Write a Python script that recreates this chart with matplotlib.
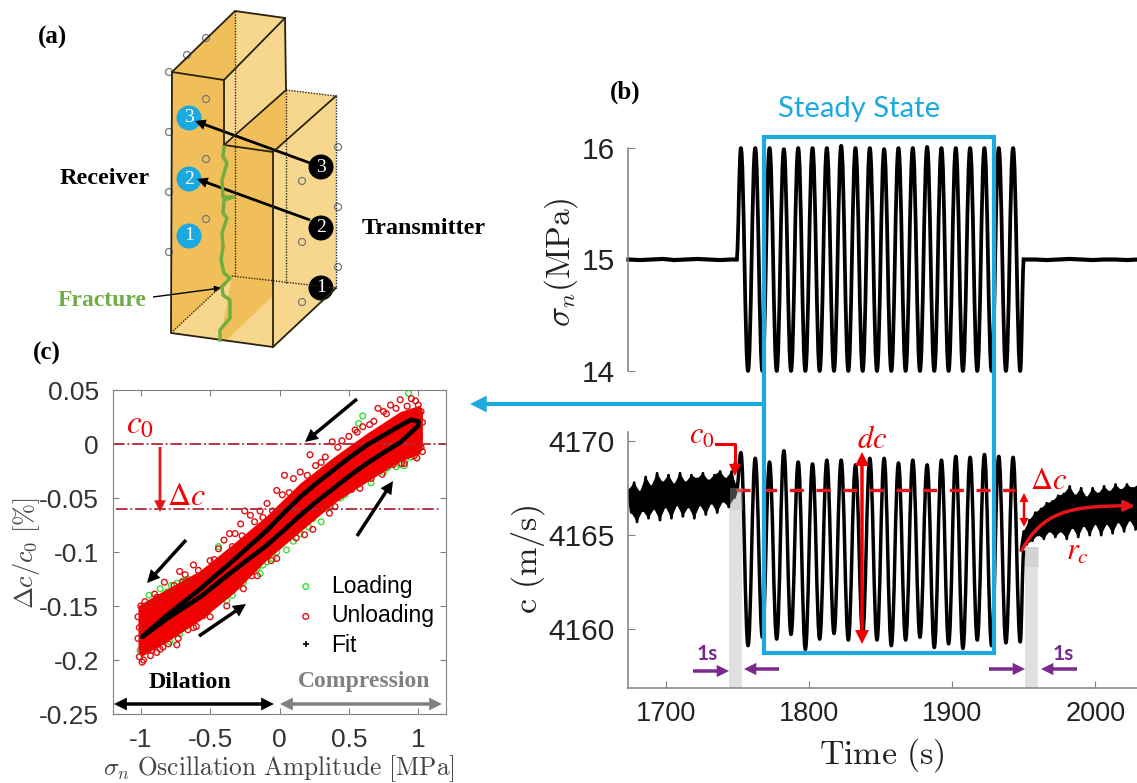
import numpy as np
import matplotlib
matplotlib.use('Agg')
import matplotlib.pyplot as plt
from matplotlib.path import Path
from matplotlib.patches import PathPatch, Polygon, Circle, Rectangle, FancyArrowPatch

plt.rcParams['font.family'] = ['Liberation Sans', 'DejaVu Sans']
plt.rcParams['mathtext.fontset'] = 'cm'

# panel b, stress: turning points of the oscillation
stress_peak_t = [1752.5, 1762.5, 1772.5, 1782.5, 1792.5, 1802.5, 1812.5, 1822.5, 1832.5, 1842.5,
                 1852.5, 1862.5, 1872.5, 1882.5, 1892.5, 1902.5, 1912.5, 1922.5, 1932.5, 1942.5]
stress_peak = [16.0, 16.0, 16.0, 15.99, 16.0, 16.0, 16.0, 16.02, 16.0, 16.0,
               15.99, 16.0, 16.0, 16.01, 16.0, 16.0, 16.0, 16.0, 16.0, 16.0]
stress_trough_t = [1757.5, 1767.5, 1777.5, 1787.5, 1797.5, 1807.5, 1817.5, 1827.5, 1837.5, 1847.5,
                   1857.5, 1867.5, 1877.5, 1887.5, 1897.5, 1907.5, 1917.5, 1927.5, 1937.5, 1947.5]
stress_trough = [14.0, 14.0, 14.0, 14.0, 14.0, 14.0, 14.0, 14.0, 14.0, 14.0,
                 14.0, 14.0, 14.0, 14.0, 14.0, 14.0, 14.0, 14.0, 14.0, 14.0]
stress_pre_t = [1674, 1682, 1690, 1698, 1706, 1714, 1722, 1730, 1738, 1746, 1749.5]
stress_pre = [15.0, 14.995, 15.0, 15.005, 14.995, 15.0, 15.005, 15.0, 14.995, 15.0, 15.0]
stress_post_t = [1950, 1958, 1966, 1974, 1982, 1990, 1998, 2006, 2014, 2022, 2030]
stress_post = [15.0, 15.0, 14.995, 15.0, 15.005, 15.0, 14.995, 15.0, 15.0, 14.995, 15.0]

# panel b, wave speed: turning points plus the noisy parts before and after
speed_peak = [4169.4, 4169.1, 4168.9, 4169.5, 4168.9, 4168.8, 4169.0, 4169.0, 4168.75, 4169.1,
              4169.1, 4168.85, 4169.0, 4168.75, 4169.0, 4169.2, 4169.15, 4169.3, 4169.2, 4169.15]
speed_trough = [4159.1, 4159.55, 4159.45, 4159.7, 4158.9, 4159.45, 4159.75, 4159.4, 4159.75, 4159.4,
                4159.1, 4159.4, 4159.55, 4159.0, 4159.2, 4158.95, 4159.4, 4159.1, 4159.25, 4159.3]
speed_pre_t = [1674, 1676, 1678, 1680, 1682, 1684, 1686, 1688, 1690, 1692, 1694, 1696, 1698,
               1700, 1702, 1704, 1706, 1708, 1710, 1712, 1714, 1716, 1718, 1720, 1722, 1724,
               1726, 1728, 1730, 1732, 1734, 1736, 1738, 1740, 1742, 1744, 1746, 1748, 1750]
speed_pre = [4167.4, 4166.2, 4167.8, 4165.7, 4167.3, 4166.3, 4168.1, 4165.9, 4167.6, 4166.4,
             4168.3, 4165.8, 4167.8, 4166.5, 4168.2, 4165.9, 4167.7, 4166.6, 4168.3, 4166.0,
             4167.8, 4166.5, 4168.2, 4165.9, 4168.0, 4166.6, 4168.3, 4166.1, 4167.9, 4166.7,
             4168.2, 4166.2, 4168.4, 4166.8, 4168.0, 4166.5, 4168.4, 4167.0, 4167.5]
speed_post_t = [1948, 1950, 1952, 1954, 1956, 1958, 1960, 1962, 1964, 1966, 1968, 1970, 1972,
                1974, 1976, 1978, 1980, 1982, 1984, 1986, 1988, 1990, 1992, 1994, 1996, 1998,
                2000, 2002, 2004, 2006, 2008, 2010, 2012, 2014, 2016, 2018, 2020, 2022, 2024,
                2026, 2028, 2030]
speed_post = [4164.2, 4165.2, 4164.5, 4165.8, 4164.7, 4166.2, 4165.0, 4166.4, 4164.8, 4166.7,
              4165.2, 4166.8, 4164.9, 4167.1, 4165.2, 4167.2, 4164.8, 4167.6, 4165.4, 4167.1,
              4164.9, 4167.5, 4165.5, 4167.0, 4165.0, 4167.5, 4165.6, 4167.2, 4165.0, 4167.6,
              4165.6, 4167.3, 4165.1, 4167.7, 4165.7, 4167.4, 4165.2, 4167.7, 4165.8, 4167.5,
              4165.3, 4167.7]
speed_c0 = 4167.4

# panel c, dense part of the cloud: outline read along the amplitude axis
cloud_x = [-1.02, -1.0, -0.81, -0.57, -0.33, -0.09, 0.15, 0.39, 0.63, 0.87, 1.01, 1.03]
cloud_up = [-0.150, -0.148, -0.134, -0.117, -0.092, -0.066, -0.036, -0.012, 0.010, 0.030, 0.036, 0.030]
cloud_low = [-0.192, -0.197, -0.183, -0.163, -0.138, -0.107, -0.081, -0.055, -0.035, -0.016, -0.009, -0.002]

loading_x = [0.93, 0.60, 0.57, 0.906, 0.87, 0.82, 0.75, 0.70, 0.57, 0.53, 0.485, 0.34, 0.27, 0.21,
             0.15, 0.05, -0.02, -0.09, -0.16, -0.22, -0.30, -0.30, -0.34, -0.38, -0.44, -0.74,
             -0.81, -0.94, -0.885, -0.72, -0.79, -1.005, 0.30, 0.62, 0.78, 0.95, -0.12, -0.26,
             -0.66, -0.70, 0.10, 0.44, -0.19, -0.36, -0.05, 0.0, -0.14, -0.24, 0.24, 0.37, 0.47,
             0.66, 0.84, 0.90, -0.86, -0.78, -0.68]
loading_y = [0.047, 0.026, 0.019, -0.015, -0.019, -0.016, -0.026, -0.023, -0.036, -0.040, -0.044,
             -0.060, -0.064, -0.077, -0.083, -0.098, -0.100, -0.109, -0.115, -0.118, -0.123, -0.132,
             -0.140, -0.145, -0.095, -0.129, -0.137, -0.140, -0.142, -0.176, -0.183, -0.191, -0.072,
             -0.028, -0.022, -0.012, -0.112, -0.128, -0.125, -0.127, -0.090, -0.050, -0.108, -0.137,
             -0.106, -0.094, -0.120, -0.112, -0.069, -0.057, -0.047, -0.036, -0.021, -0.020, -0.134,
             -0.131, -0.128]
unloading_x = [0.71, 0.87, 0.98, 0.545, 0.50, 0.38, 0.22, 0.15, 0.036, -0.02, -0.09, -0.25, -0.21,
               -0.28, -0.36, -0.44, -0.50, -0.585, -0.68, -0.76, -0.885, -0.97, -0.60, -0.55, -0.73,
               -0.80, -0.885, -0.98, -0.99, -0.02, 0.09, 1.03, 0.99, 0.93, 0.82, 0.95, 1.00, 0.80,
               0.75, 0.65, 0.60, 0.45, 0.30, 0.26, 0.10, 0.02, -0.14, -0.18, -0.32, -0.40, -0.47,
               -0.62, -0.66, -0.72, -0.83, -0.90, -0.94, -1.0, -1.01, -0.92, -0.84, -0.66, -0.52,
               -0.44, -0.30, -0.20, 0.18, 0.36, 0.52, 0.66, 0.90, 1.02,
               0.92, 0.84, 0.77, 0.68, 0.56, 0.42, 0.33, 0.20, 0.07, -0.05, -0.12, -0.27, -0.34, -0.48,
               -0.54, -0.70, -0.78, -0.87, -0.95, 1.03, 1.02, 0.97, 0.88, 0.74, 0.58, 0.40, 0.24, 0.12,
               -0.06, -0.16, -0.26, -0.38, -0.50, -0.62, -0.74, -0.86, -0.93, -1.02, -1.02, -1.01]
unloading_y = [0.033, 0.041, 0.040, 0.013, 0.007, 0.002, -0.010, -0.026, -0.029, -0.043, -0.055,
               -0.062, -0.066, -0.074, -0.083, -0.097, -0.108, -0.117, -0.121, -0.131, -0.142, -0.146,
               -0.169, -0.159, -0.180, -0.185, -0.193, -0.200, -0.202, -0.106, -0.084, -0.007, -0.013,
               -0.010, -0.019, 0.042, 0.036, 0.036, 0.030, 0.018, 0.016, 0.003, -0.017, -0.020, -0.032,
               -0.047, -0.062, -0.072, -0.083, -0.089, -0.107, -0.112, -0.127, -0.118, -0.128, -0.139,
               -0.149, -0.150, -0.170, -0.191, -0.188, -0.172, -0.155, -0.141, -0.127, -0.122, -0.084,
               -0.064, -0.042, -0.032, -0.018, 0.030,
               0.035, 0.033, 0.028, 0.021, 0.011, -0.003, -0.012, -0.029, -0.045, -0.062, -0.068, -0.085,
               -0.095, -0.112, -0.121, -0.128, -0.139, -0.147, -0.150, 0.020, -0.003, -0.011, -0.018,
               -0.028, -0.041, -0.058, -0.079, -0.087, -0.108, -0.122, -0.134, -0.150, -0.160, -0.170,
               -0.186, -0.190, -0.196, -0.160, -0.180, -0.197]

fit_x = [1.0, 0.95, 0.87, 0.75, 0.63, 0.51, 0.39, 0.27, 0.15, 0.03, -0.09, -0.33, -0.57, -0.81, -0.99,
         -0.81, -0.57, -0.33, -0.09, 0.03, 0.15, 0.27, 0.39, 0.51, 0.63, 0.75, 0.87, 0.95, 1.0, 1.0]
fit_y = [0.0207, 0.0225, 0.017, 0.008, -0.001, -0.012, -0.024, -0.036, -0.049, -0.064, -0.080, -0.1075,
         -0.134, -0.1585, -0.1786, -0.1616, -0.1415, -0.117, -0.0936, -0.080, -0.066, -0.053, -0.041,
         -0.029, -0.018, -0.008, 0.0015, 0.011, 0.017, 0.0207]

# panel a, sensors
receiver_labels = ['1', '2', '3']
transmitter_labels = ['1', '2', '3']
fracture_px = [(224, 147), (223, 157), (227, 163), (222, 180), (223, 197), (233, 197), (224, 200),
               (223, 213), (227, 218), (222, 233), (223, 247), (221, 260), (224, 273), (230, 278),
               (222, 287), (223, 295), (230, 300), (230, 318), (220, 330), (220, 340)]

BLUE = '#1BA9DF'
RED = '#F00000'
DARKRED = '#B2283A'
PURPLE = '#7A2A8C'
GOLD = '#F1BF59'
PALE = '#F7D78E'
GREY = '#808080'
W, H = 1137, 783

fig = plt.figure(figsize=(11.37, 7.83), dpi=100)


def ax_px(left, top, right, bottom):
    return fig.add_axes([left / W, 1 - bottom / H, (right - left) / W, (bottom - top) / H])


def wave(t_start, v_start, peak_t, peaks, trough_t, troughs, t_end, v_end):
    # smooth curve through the turning points, flat at each one
    pts = [(t_start, v_start)]
    for a, b, c, d in zip(peak_t, peaks, trough_t, troughs):
        pts += [(a, b), (c, d)]
    pts.append((t_end, v_end))
    verts = [pts[0]]
    codes = [Path.MOVETO]
    for (t0, v0), (t1, v1) in zip(pts[:-1], pts[1:]):
        dt = t1 - t0
        verts += [(t0 + 0.4 * dt, v0), (t1 - 0.4 * dt, v1), (t1, v1)]
        codes += [Path.CURVE4] * 3
    return Path(verts, codes)


# panel b top
ax1 = ax_px(628, 148, 1137, 371)
ax1.set_xlim(1673.7, 2029)
ax1.set_ylim(14, 16)
for s in ['top', 'right', 'bottom']:
    ax1.spines[s].set_visible(False)
ax1.spines['left'].set_color(GREY)
ax1.spines['left'].set_linewidth(1.1)
ax1.set_xticks([])
ax1.set_yticks([14, 15, 16])
ax1.tick_params(axis='y', direction='in', length=5, color=GREY, labelsize=21.5, pad=9.5, labelcolor='#222222')
ax1.plot(stress_pre_t, stress_pre, color='k', lw=3, clip_on=False)
ax1.plot(stress_post_t, stress_post, color='k', lw=3)
ax1.add_patch(PathPatch(wave(1749.5, 15, stress_peak_t, stress_peak, stress_trough_t, stress_trough, 1950, 15),
                        fill=False, ec='k', lw=2.7, clip_on=False, joinstyle='round'))

# panel b bottom
ax2 = ax_px(628, 432, 1137, 687.5)
ax2.set_xlim(1673.7, 2029)
ax2.set_ylim(4156.87, 4170.5)
for s in ['top', 'right']:
    ax2.spines[s].set_visible(False)
ax2.spines['left'].set_color(GREY)
ax2.spines['bottom'].set_color(GREY)
ax2.spines['left'].set_linewidth(1.1)
ax2.spines['bottom'].set_linewidth(1.1)
ax2.set_xticks([1700, 1800, 1900, 2000])
ax2.set_yticks([4160, 4165, 4170])
ax2.tick_params(axis='x', direction='in', length=5, color=GREY, labelsize=19.5, pad=10, labelcolor='#222222')
ax2.tick_params(axis='y', direction='in', length=5, color=GREY, labelsize=21.5, pad=9.5, labelcolor='#222222')
ax2.axvspan(1744.5, 1753.5, ymax=0.78, color='#E0E0E0', lw=0)
ax2.axvspan(1950.5, 1960, ymax=0.55, color='#E0E0E0', lw=0)
# the noisy parts: solid band between the high and low readings, spikes on top
ax2.fill(speed_pre_t[::2] + speed_pre_t[1::2][::-1], speed_pre[::2] + speed_pre[1::2][::-1], color='k', lw=0)
ax2.fill(speed_post_t[1::2] + speed_post_t[::2][::-1], speed_post[1::2] + speed_post[::2][::-1], color='k', lw=0)
ax2.plot(speed_pre_t, speed_pre, color='k', lw=2, solid_joinstyle='round')
ax2.plot(speed_post_t, speed_post, color='k', lw=2, solid_joinstyle='round')
ax2.add_patch(PathPatch(wave(1749.5, 4167.4, stress_peak_t, speed_peak, stress_trough_t, speed_trough, 1950, 4164.2),
                        fill=False, ec='k', lw=2.5, joinstyle='round'))
ax2.axhline(speed_c0, xmin=0.213, xmax=0.76, color='#E8141C', lw=2.4, dashes=(4.2, 3.8), zorder=5)

# panel c
ax3 = ax_px(113, 390, 446, 714)
ax3.set_xlim(-1.2, 1.2)
ax3.set_ylim(-0.25, 0.05)
for s in ax3.spines.values():
    s.set_color(GREY)
ax3.set_xticks([-1, -0.5, 0, 0.5, 1])
ax3.set_xticklabels(['-1', '-0.5', '0', '0.5', '1'])
ax3.set_yticks([-0.25, -0.2, -0.15, -0.1, -0.05, 0, 0.05])
ax3.set_yticklabels(['-0.25', '-0.2', '-0.15', '-0.1', '-0.05', '0', '0.05'])
ax3.tick_params(direction='in', length=4, color=GREY, labelsize=19, pad=10, labelcolor='#333333', top=True, right=True)
ax3.axhline(0, color=DARKRED, lw=1.3, ls='-.')
ax3.axhline(-0.06, xmin=0.01, xmax=0.98, color=DARKRED, lw=1.3, ls='-.')
h_load = ax3.scatter(loading_x, loading_y, s=17, facecolors='none', edgecolors='#35E035', lw=1, label='Loading')
ax3.fill_between(cloud_x, cloud_low, cloud_up, color=RED, lw=0)
h_unload = ax3.scatter(unloading_x, unloading_y, s=17, facecolors='none', edgecolors='#E01010', lw=1, label='Unloading')
ax3.plot(fit_x, fit_y, color='k', lw=3.3, solid_joinstyle='round', solid_capstyle='round')
h_fit, = ax3.plot([], [], 'k+', ms=4, mew=1.2, label='Fit')
ax3.legend(handles=[h_load, h_unload, h_fit], loc='lower left', bbox_to_anchor=(0.51, 0.175), frameon=False,
           fontsize=16.5, labelspacing=0.3, handletextpad=0.1, borderpad=0, borderaxespad=0)

# everything drawn in picture pixels sits on this overlay
ov = fig.add_axes([0, 0, 1, 1], zorder=10)
ov.set_xlim(0, W)
ov.set_ylim(H, 0)
ov.axis('off')
ov.patch.set_alpha(0)


def arrow(p0, p1, color, lw=2.5, style='-|>', scale=14):
    ov.add_patch(FancyArrowPatch(p0, p1, arrowstyle=style, mutation_scale=scale, color=color, lw=lw,
                                 shrinkA=0, shrinkB=0, joinstyle='miter', capstyle='butt'))


# panel a block, faces back to front
faces = [
    ([(172, 72), (235, 11), (235, 75), (224, 80)], GOLD),
    ([(235, 11), (285, 18), (285, 25), (235, 75)], PALE),
    ([(224, 80), (285, 18), (286, 90), (224, 145)], PALE),
    ([(172, 72), (224, 80), (224, 340), (171, 333)], GOLD),
    ([(224, 145), (235, 137), (286, 90), (286, 145), (273, 152)], GOLD),
    ([(224, 145), (273, 152), (273, 347), (224, 340)], GOLD),
    ([(286, 90), (336, 96), (336, 288), (286, 283)], PALE),
    ([(273, 152), (286, 140), (336, 96), (336, 288), (273, 347)], PALE),
    ([(171, 333), (232, 276), (220, 340)], PALE),
    ([(286, 283), (336, 288), (273, 347), (226, 341)], PALE),
]
for verts, col in faces:
    ov.add_patch(Polygon(verts, closed=True, fc=col, ec='none'))
solid = [[(172, 72), (171, 333), (273, 347), (273, 152), (224, 145), (224, 80), (172, 72)],
         [(172, 72), (235, 11), (285, 18), (224, 80)],
         [(285, 18), (286, 90)],
         [(224, 145), (286, 90)],
         [(273, 152), (336, 96)],
         [(273, 347), (336, 288)]]
for line in solid:
    xs, ys = zip(*line)
    ov.plot(xs, ys, color='#2a2210', lw=1.3)
dotted = [[(235, 11), (235, 276)], [(286, 90), (286, 283)], [(286, 90), (336, 96)], [(336, 96), (336, 288)],
          [(171, 333), (232, 276), (336, 288)]]
for line in dotted:
    xs, ys = zip(*line)
    ov.plot(xs, ys, color='#2a2210', lw=1, ls=(0, (1, 1)))
fx, fy = zip(*fracture_px)
ov.plot(fx, fy, color='#6FAE3F', lw=2.5, solid_joinstyle='round')
for x, y in [(169, 72), (169, 132), (169, 192), (169, 252), (206, 38), (187, 55), (206, 99), (206, 159), (206, 219),
             (338, 147), (338, 207), (338, 267), (302, 181), (302, 242), (302, 302)]:
    ov.add_patch(Circle((x, y), 3.5, fc='none', ec='#777777', lw=0.9))
for (x, y), lab in zip([(189, 236), (189, 179), (189, 118)], receiver_labels):
    ov.add_patch(Circle((x, y), 12.5, fc=BLUE, ec='none'))
    ov.text(x, y, lab, color='white', ha='center', va='center', fontsize=14, family='Liberation Serif')
for (x, y), lab in zip([(321, 288), (321, 228), (321, 167)], transmitter_labels):
    ov.add_patch(Circle((x, y), 12.5, fc='k', ec='none'))
    ov.text(x, y, lab, color='white', ha='center', va='center', fontsize=14, family='Liberation Serif')
arrow((310, 163), (195, 121), 'k', lw=2, scale=11)
arrow((310, 220), (197, 179), 'k', lw=2, scale=11)
arrow((153, 297), (221, 288), 'k', lw=1, scale=9)

serif = dict(family='Liberation Serif', fontweight='bold', va='center')
ov.text(38, 37, '(a)', fontsize=18, **serif)
ov.text(610, 92, '(b)', fontsize=18, **serif)
ov.text(33, 353, '(c)', fontsize=18, **serif)
ov.text(60, 178, 'Receiver', fontsize=17.5, **serif)
ov.text(362, 228, 'Transmitter', fontsize=17.3, **serif)
ov.text(58, 300, 'Fracture', fontsize=17, color='#70AD47', **serif)

# steady state box and arrow
ov.add_patch(Rectangle((764, 137), 230, 515.5, fc='none', ec=BLUE, lw=3))
ov.text(859, 109, 'Steady State', color=BLUE, fontsize=21, family='Lato', ha='center', va='center')
arrow((764, 404), (470, 404), BLUE, lw=3, scale=18)

# grey windows over the noisy trace
ov.add_patch(Rectangle((730, 488), 12.5, 22, fc='#BBBBBB', alpha=0.35, ec='none'))
ov.add_patch(Rectangle((1025, 547), 13.5, 20, fc='#BBBBBB', alpha=0.35, ec='none'))

# axis titles
ov.text(561, 262, r'$\sigma_n\mathrm{(MPa)}$', rotation=90, fontsize=24, ha='center', va='center', color='#222222')
ov.text(528, 560, r'$\mathrm{c\ (m/s)}$', rotation=90, fontsize=24.5, ha='center', va='center', color='#222222')
ov.text(882, 755, r'$\mathrm{Time\ (s)}$', fontsize=24.4, ha='center', va='center', color='#222222')
ov.text(27, 553, r'$\Delta c/c_0\ \mathrm{[\%]}$', rotation=90, fontsize=19, ha='center', va='center', color='#444444')
ov.text(279, 769, r'$\sigma_n\ \mathrm{Oscillation\ Amplitude\ [MPa]}$', fontsize=18.3, ha='center', va='center', color='#444444')

# red marks, panel b
red_math = dict(color=RED, math_fontfamily='stix', ha='center', va='center')
ov.text(702, 436, r'$c_0$', fontsize=22, **red_math)
ov.plot([716, 735, 735], [444, 444, 468], color=RED, lw=2.2)
arrow((735, 462), (735, 476), RED, lw=2.2, scale=13)
ov.text(872, 440, r'$dc$', fontsize=22, **red_math)
arrow((862, 644), (862, 452), RED, lw=2.5, style='<|-|>', scale=15)
ov.text(1048, 481, r'$\Delta c$', fontsize=22, **red_math)
arrow((1024, 527), (1024, 493), RED, lw=1.8, style='<|-|>', scale=9)
ov.text(1077, 552, r'$r_c$', fontsize=22, **red_math)
rc_path = Path([(1022, 550), (1042, 513), (1068, 505), (1135, 506)], [Path.MOVETO, Path.CURVE4, Path.CURVE4, Path.CURVE4])
ov.add_patch(FancyArrowPatch(path=rc_path, arrowstyle='-|>', mutation_scale=15, color='#E8141C', lw=2.5))

# purple 1s marks
for p0, p1 in [((693, 671), (729, 671)), ((779, 669), (744, 669)), ((989, 669), (1025, 669)), ((1077, 669), (1041, 669))]:
    arrow(p0, p1, PURPLE, lw=2.5, scale=12)
ov.text(707, 654, '1s', color=PURPLE, fontsize=15, family='Lato', fontweight='bold', ha='center', va='center')
ov.text(1063, 654, '1s', color=PURPLE, fontsize=15, family='Lato', fontweight='bold', ha='center', va='center')

# marks on panel c
ov.text(140, 425, r'$c_0$', fontsize=24, **red_math)
ov.text(186, 497, r'$\Delta c$', fontsize=23, **red_math)
arrow((160, 447), (160, 512), '#E01818', lw=2, scale=13)
for p0, p1 in [((357, 399), (305, 442)), ((357, 536), (393, 481)), ((186, 540), (147, 583)), ((199, 636), (246, 604))]:
    arrow(p0, p1, 'k', lw=2.5, scale=13)
ov.text(190, 682, 'Dilation', fontsize=17.3, **{**serif, 'ha': 'center'})
ov.text(364, 682, 'Compression', fontsize=17, color=GREY, **{**serif, 'ha': 'center'})
arrow((114, 704), (274, 704), 'k', lw=2.5, style='<|-|>', scale=13)
arrow((280, 704), (442, 704), GREY, lw=2.5, style='<|-|>', scale=13)

plt.savefig('out.png', dpi=100)
